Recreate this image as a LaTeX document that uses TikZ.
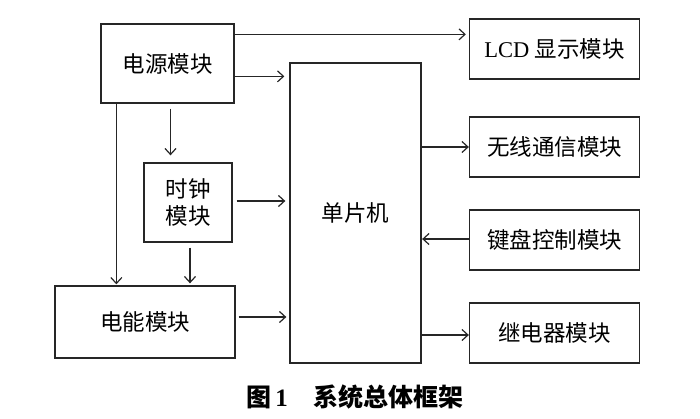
\documentclass[tikz,border=0pt]{standalone}
\usepackage{fontspec}
\setmainfont{Liberation Serif}
\newfontfamily\cjk{Noto Sans CJK SC}
\usetikzlibrary{arrows.meta}
\begin{document}
\begin{tikzpicture}[x=1pt,y=-1pt,
  box/.style={draw=black!85,line width=1.3pt,inner sep=0pt,align=center,font=\fontsize{22.5}{27}\selectfont\cjk},
  arr/.style={draw=black!85,line width=1.3pt,-{Straight Barb[length=6pt,width=11pt,line width=1.2pt]}}]
\useasboundingbox (0,0) rectangle (700,418);
\node[box,minimum width=133pt,minimum height=79pt] (psu) at (167.5,63.5) {电源模块};
\node[box,minimum width=88pt,minimum height=79pt] (clk) at (188,202.5) {时钟\\模块};
\node[box,minimum width=180pt,minimum height=72pt] (pwr) at (145,322) {电能模块};
\node[box,minimum width=131pt,minimum height=300pt] (mcu) at (355.5,213) {单片机};
\node[box,minimum width=170pt,minimum height=60pt] (lcd) at (554.5,49) {{\rmfamily LCD} 显示模块};
\node[box,minimum width=170pt,minimum height=60pt] (wl) at (554.5,147) {无线通信模块};
\node[box,minimum width=170pt,minimum height=60pt] (kb) at (554.5,240) {键盘控制模块};
\node[box,minimum width=170pt,minimum height=60pt] (rl) at (554.5,333) {继电器模块};
\node[font=\fontsize{25}{29}\selectfont\cjk\bfseries] (cap) at (355,397) {图\hspace{4pt}{\rmfamily 1}\hspace{26pt}系统总体框架};
% connectors
\coordinate (a1) at ([yshift=-11pt]psu.north east);
\draw[arr,shorten >=3pt] (a1) -- (a1 -| lcd.west);
\coordinate (a2) at ([yshift=-53pt]psu.north east);
\draw[arr,shorten >=5pt] (a2) -- (a2 -| mcu.west);
\coordinate (a3) at ([xshift=16pt]psu.south west);
\draw[arr,shorten >=1pt] (a3) -- (a3 |- pwr.north);
\coordinate (a4) at ([xshift=3pt,yshift=-5pt]psu.south);
\draw[arr,shorten >=7pt] (a4) -- (a4 |- clk.north);
\coordinate (a5) at ([xshift=4pt,yshift=1.5pt]clk.east);
\draw[arr,shorten >=4pt] (a5) -- (a5 -| mcu.west);
\coordinate (a6) at ([xshift=2pt,yshift=-5pt]clk.south);
\draw[arr,shorten >=2pt] (a6) -- (a6 |- pwr.north);
\coordinate (a7) at ([xshift=3pt,yshift=5pt]pwr.east);
\draw[arr,shorten >=3pt] (a7) -- (a7 -| mcu.west);
\coordinate (a8) at (mcu.east |- wl.center);
\draw[arr,shorten >=0pt] (a8) -- (wl.west);
\draw[arr,shorten >=0.5pt] ([yshift=1pt]kb.west) -- ([yshift=1pt]kb.west -| mcu.east);
\coordinate (a9) at ([yshift=-2pt]mcu.east |- rl.center);
\draw[arr,shorten >=0pt] (a9) -- (a9 -| rl.west);
\end{tikzpicture}
\end{document}
